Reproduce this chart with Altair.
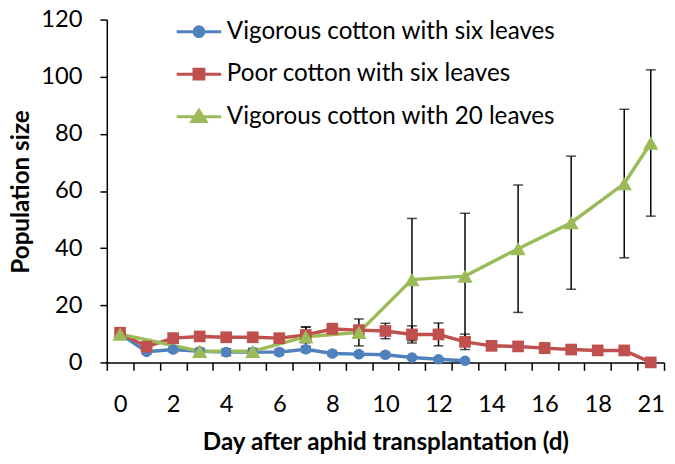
import altair as alt
import pandas as pd

# ---- data -------------------------------------------------------------
days = [str(d) for d in range(0, 20)] + ["21"]          # 21 category slots
shown_labels = ["0", "2", "4", "6", "8", "10", "12", "14", "16", "18", "21"]

series_names = [
    "Vigorous cotton with six leaves",
    "Poor cotton with six leaves",
    "Vigorous cotton with 20 leaves",
]
colors = ["#4F81BD", "#C0504D", "#9BBB59"]
marker_shapes = ["circle", "square", "triangle-up"]
marker_sizes = [115, 140, 240]

blue_days = days[:14]
blue_vals = [10.0, 3.7, 4.5, 3.9, 3.6, 3.6, 3.6, 4.6, 3.1, 2.9, 2.7, 1.7, 1.1, 0.6]
blue_err = [1.0, 0.8, 0.8, 0.8, 1.2, 0.8, 1.0, 1.0, 0.8, 0.8, 0.8, 0.6, 0.5, 0.3]

red_days = days
red_vals = [10.4, 5.5, 8.5, 9.1, 8.8, 8.8, 8.5, 9.6, 11.7, 11.3, 11.0, 9.8, 9.8, 7.2,
            5.8, 5.6, 5.0, 4.5, 4.2, 4.2, 0.0]
red_err = [1.2, 1.0, 1.0, 1.0, 1.0, 1.0, 1.0, 2.7, 1.9, 1.5, 2.7, 3.0, 4.0, 2.7,
           1.4, 1.2, 1.8, 1.3, 1.2, 1.2, 0.3]

green_days = ["0", "3", "5", "7", "9", "11", "13", "15", "17", "19", "21"]
green_vals = [9.9, 3.9, 3.9, 9.0, 10.5, 29.0, 30.2, 39.8, 48.9, 62.6, 76.8]
green_err = [1.2, 1.0, 1.0, 3.5, 4.7, 21.4, 22.0, 22.3, 23.3, 26.0, 25.6]

y_ticks = [0, 20, 40, 60, 80, 100, 120]

# ---- table ------------------------------------------------------------
rows = []
for name, ds, vs, es in [
    (series_names[0], blue_days, blue_vals, blue_err),
    (series_names[1], red_days, red_vals, red_err),
    (series_names[2], green_days, green_vals, green_err),
]:
    for d, v, e in zip(ds, vs, es):
        rows.append({"series": name, "day": d, "value": v, "lo": v - e, "hi": v + e,
                     "order": series_names.index(name)})
df = pd.DataFrame(rows)

FONT = "Lato"
FS = 24

x_enc = alt.X(
    "day:O",
    sort=days,
    scale=alt.Scale(type="band", domain=days, paddingInner=0, paddingOuter=0),
    axis=alt.Axis(
        title="Day after aphid transplantation (d)",
        tickBand="extent",
        labelExpr="indexof(" + str(shown_labels) + ", datum.label) >= 0 ? datum.label : ''",
        labelAngle=0,
        labelFontSize=FS,
        labelPadding=23,
        tickSize=8,
        titleFontSize=24.5,
        titleFontWeight="bold",
        titleY=81,
        titleBaseline="middle",
    ),
)
y_scale = alt.Scale(domain=[0, 120], nice=False, zero=True)
y_enc = alt.Y(
    "value:Q",
    scale=y_scale,
    axis=alt.Axis(
        title="Population size",
        values=y_ticks,
        labelFontSize=FS,
        labelPadding=18,
        tickSize=7,
        titleFontSize=24.5,
        titleFontWeight="bold",
        titleAngle=-90,
        titleX=-86,
        titleY=174,
        titleAlign="center",
        titleBaseline="middle",
    ),
)
color_scale = alt.Scale(domain=series_names, range=colors)

# legend glyphs: a line segment with the series marker on it
line_part = "M-2.25,0L2.25,0"
legend_paths = [
    line_part + "M0.5,0A0.5,0.5 0 1,1 -0.5,0A0.5,0.5 0 1,1 0.5,0Z",
    line_part + "M-0.5,-0.5L0.5,-0.5L0.5,0.5L-0.5,0.5Z",
    line_part + "M0,-0.65L0.72,0.5L-0.72,0.5Z",
]
shape_expr = "".join(
    "datum.value === '%s' ? '%s' : " % (n, p) for n, p in zip(series_names, legend_paths)
) + "'circle'"

leg = alt.Legend(
    title=None,
    orient="none",
    legendX=81,
    legendY=0,
    symbolType=alt.ExprRef(expr=shape_expr),
    symbolFillColor=alt.ExprRef(expr="scale('color', datum.value)"),
    symbolStrokeColor=alt.ExprRef(expr="scale('color', datum.value)"),
    symbolSize=400,
    symbolStrokeWidth=3,
    symbolOpacity=1,
    labelFontSize=24.5,
    labelFont=FONT,
    labelOffset=16,
    rowPadding=18,
    padding=0,
    labelLimit=500,
)

base = alt.Chart(df)

err_rule = base.mark_rule(color="black", strokeWidth=1.5).encode(
    x=x_enc, y=alt.Y("lo:Q", scale=y_scale), y2="hi:Q"
)
err_lo = base.mark_tick(color="black", thickness=1.5, size=10).encode(
    x=x_enc, y=alt.Y("lo:Q", scale=y_scale)
)
err_hi = base.mark_tick(color="black", thickness=1.5, size=10).encode(
    x=x_enc, y=alt.Y("hi:Q", scale=y_scale)
)

lines = base.mark_line(strokeWidth=3.5).encode(
    x=x_enc, y=y_enc,
    color=alt.Color("series:N", scale=color_scale, sort=series_names, legend=leg),
    detail="series:N",
    order="order:Q",
)

point_layers = []
for name, col, shp, sz in zip(series_names, colors, marker_shapes, marker_sizes):
    point_layers.append(
        base.transform_filter(alt.datum.series == name)
        .mark_point(filled=True, opacity=1, strokeWidth=0, shape=shp, size=sz, color=col)
        .encode(x=x_enc, y=y_enc)
    )

chart = (
    alt.layer(err_rule, err_lo, err_hi, lines, *point_layers)
    .properties(
        width=564,
        height=347,
        autosize=alt.AutoSizeParams(type="none"),
        padding={"left": 100, "top": 9, "right": 3, "bottom": 92},
        background="white",
    )
    .configure_view(stroke=None)
    .configure_legend(labelFont=FONT, labelColor="#000000")
    .configure_axis(
        grid=False,
        domainColor="#000000",
        domainWidth=1.5,
        tickColor="#000000",
        tickWidth=1.5,
        labelColor="#000000",
        titleColor="#000000",
        labelFont=FONT,
        titleFont=FONT,
    )
)

chart.save("out.html", embed_options={"renderer": "svg", "actions": False})
